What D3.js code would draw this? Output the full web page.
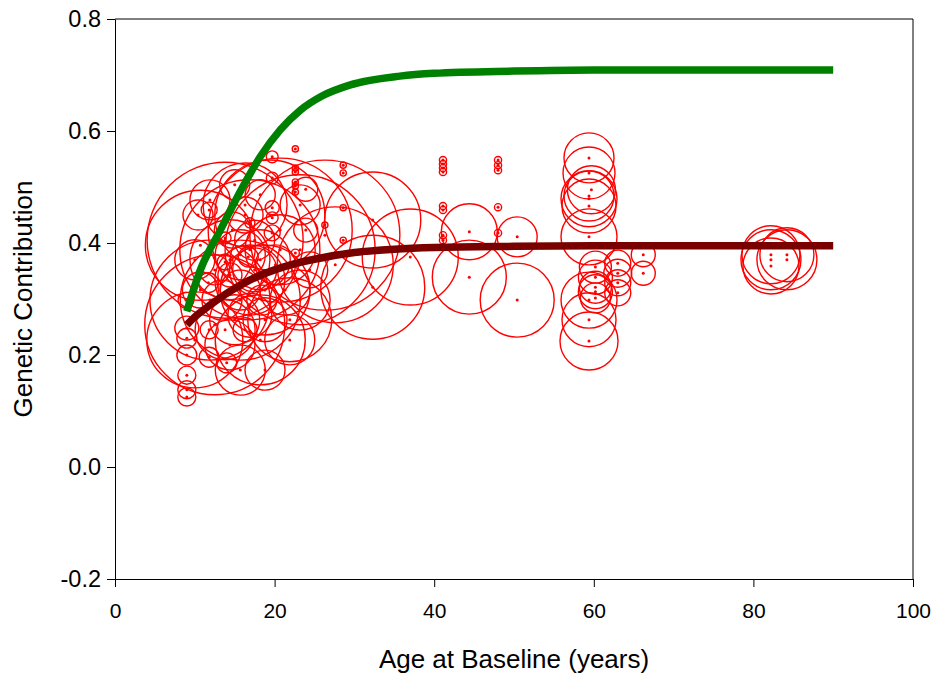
<!DOCTYPE html>
<html><head><meta charset="utf-8">
<script src="https://cdn.jsdelivr.net/npm/d3@7"></script>
<style>
body{margin:0;background:#fff;}
svg{display:block;font-family:"Liberation Sans",Arial,sans-serif;}
</style></head>
<body><svg id="c" width="935" height="676"></svg>
<script>
// ---- data ----
const xTicks = [0,20,40,60,80,100];
const xTickLabels = ["0","20","40","60","80","100"];
const yTicks = [-0.2,0,0.2,0.4,0.6,0.8];
const yTickLabels = ["-0.2","0.0","0.2","0.4","0.6","0.8"];
const xTitle = "Age at Baseline (years)";
const yTitle = "Genetic Contribution";

// study estimates: age at baseline, genetic contribution, sample size
const studyAge = [
 9.0,9.0,9.0,9.0,9.0,9.0,8.9,11.8,11.8,11.8,11.7,14.0,13.8,13.8,16.7,16.9,
 19.7,19.7,19.7,19.7,19.7,22.6,22.6,22.6,22.6,22.6,22.6,23.9,23.9,
 28.6,28.6,28.6,28.6,22.6,26.3,
 41.1,41.1,41.1,41.1,41.1,41.1,41.1,41.1,
 48.0,48.0,48.0,48.0,48.0,
 13.8,12.5,10.7,11.9,10.0,15.7,16.9,20.7,23.2,26.3,27.6,18.8,16.3,18.2,21.9,19.4,
 32.3,32.3,37.0,44.4,44.4,50.4,50.4,
 14.4,15.0,16.9,13.4,15.7,17.5,15.7,17.5,14.7,16.3,18.2,15.0,10.7,10.0,12.5,14.4,
 16.3,18.4,20.1,21.3,23.2,23.2,24.4,21.9,18.8,13.8,11.9,10.4,18.2,20.7,16.9,14.4,
 15.7,18.8,
 59.4,59.4,59.4,59.4,59.4,59.7,59.4,59.4,59.4,59.4,60.2,60.2,60.2,60.2,60.2,
 63.0,63.0,63.0,63.0,66.2,66.2,
 82.2,82.2,82.2,84.2,84.2
];
const studyH2 = [
 0.248,0.230,0.200,0.164,0.138,0.125,0.298,0.459,0.245,0.196,0.329,0.186,0.409,0.366,0.375,0.436,
 0.554,0.516,0.463,0.445,0.418,0.568,0.534,0.527,0.509,0.502,0.491,0.496,0.423,
 0.539,0.525,0.463,0.405,0.382,0.432,
 0.548,0.541,0.534,0.527,0.466,0.459,0.414,0.405,
 0.548,0.539,0.530,0.464,0.418,
 0.405,0.254,0.396,0.298,0.227,0.298,0.388,0.423,0.388,0.414,0.361,0.316,0.468,0.227,0.263,0.450,
 0.441,0.321,0.375,0.420,0.339,0.411,0.298,
 0.218,0.263,0.271,0.298,0.316,0.352,0.379,0.405,0.423,0.450,0.486,0.504,0.316,0.370,0.352,0.343,
 0.245,0.298,0.361,0.316,0.298,0.468,0.352,0.227,0.263,0.245,0.477,0.450,0.370,0.388,0.334,0.370,
 0.173,0.173,
 0.552,0.525,0.484,0.479,0.466,0.495,0.411,0.298,0.263,0.225,0.357,0.339,0.321,0.313,0.302,
 0.364,0.346,0.329,0.311,0.379,0.346,
 0.379,0.370,0.359,0.379,0.370
];
const studyN = [
 90,62,62,51,51,51,40,40,51,62,62,62,22,40,62,16,
 22,22,31,22,40,6,6,6,6,6,6,90,90,
 6,6,6,6,10,6,
 8,8,8,8,8,8,8,8,
 8,8,8,8,8,
 3802,3062,1891,2250,1440,2250,3062,3240,3516,3516,2102,1266,1102,1266,1102,1891,
 1440,1690,1440,490,856,250,856,
 391,391,302,250,250,302,391,250,202,202,141,141,202,250,141,90,
 90,141,250,391,562,250,202,391,302,562,250,141,562,766,766,1000,
 391,250,
 391,422,391,490,456,360,490,490,456,526,160,181,160,181,141,
 106,122,106,106,90,90,
 526,562,490,456,562
];

// fitted curves
const curveAge  = [9,10.7,13.2,16,18.2,20.7,23.2,26,29.4,35.7,40,50,60,75,90];
const curveHigh = [0.278,0.352,0.423,0.500,0.554,0.602,0.637,0.663,0.682,0.698,0.703,0.707,0.709,0.709,0.709];
const curveAgeLow = [9,10,12,14,16,18,20,22,25,30,35,40,50,60,75,90];
const curveLow  = [0.254,0.268,0.290,0.310,0.327,0.341,0.352,0.361,0.371,0.383,0.389,0.392,0.394,0.395,0.395,0.395];

// ---- drawing ----
const svg = d3.select("#c");
const x = d3.scaleLinear().domain([0,100]).range([115,913]);
const y = d3.scaleLinear().domain([-0.2,0.8]).range([579,19]);
const r = d3.scaleSqrt().domain([0,1000]).range([0,40]);

const studies = studyAge.map((a,i)=>({age:a,h:studyH2[i],n:studyN[i]}));

const gC = svg.append("g");
gC.selectAll("circle.ring").data(studies).enter().append("circle")
  .attr("class","ring")
  .attr("cx",d=>x(d.age)).attr("cy",d=>y(d.h)).attr("r",d=>r(d.n))
  .attr("fill","none").attr("stroke","#ff0000").attr("stroke-width",1.4);
gC.selectAll("circle.dot").data(studies).enter().append("circle")
  .attr("class","dot")
  .attr("cx",d=>x(d.age)).attr("cy",d=>y(d.h)).attr("r",1.5)
  .attr("fill","#ff0000");

const line = d3.line().curve(d3.curveMonotoneX).x(d=>x(d[0])).y(d=>y(d[1]));
svg.append("path").datum(curveAge.map((a,i)=>[a,curveHigh[i]]))
  .attr("d",line).attr("fill","none").attr("stroke","#008000").attr("stroke-width",7.5);
svg.append("path").datum(curveAgeLow.map((a,i)=>[a,curveLow[i]]))
  .attr("d",line).attr("fill","none").attr("stroke","#7a0000").attr("stroke-width",7.5);

// frame
svg.append("path").attr("d",`M${x(0)},${y(0.8)}H${x(100)}V${y(-0.2)}`)
  .attr("fill","none").attr("stroke","#000").attr("stroke-width",1);

const yAxis = svg.append("g").attr("transform",`translate(${x(0)},0)`)
  .call(d3.axisLeft(y).tickValues(yTicks).tickFormat((d,i)=>yTickLabels[i]).tickSize(8).tickSizeOuter(0).tickPadding(6));
const xAxis = svg.append("g").attr("transform",`translate(0,${y(-0.2)})`)
  .call(d3.axisBottom(x).tickValues(xTicks).tickFormat((d,i)=>xTickLabels[i]).tickSize(8).tickSizeOuter(0).tickPadding(16));
yAxis.selectAll("text").attr("font-size",23.5);
xAxis.selectAll("text").attr("font-size",21);
[yAxis,xAxis].forEach(g=>{
  g.selectAll("text").attr("font-family","Liberation Sans, Arial, sans-serif").attr("fill","#000");
  g.selectAll("line,path").attr("stroke","#000");
});

svg.append("text").attr("x",514).attr("y",668).attr("text-anchor","middle")
  .attr("font-size",26).text(xTitle);
svg.append("text").attr("transform","translate(32,299) rotate(-90)").attr("text-anchor","middle")
  .attr("font-size",26).text(yTitle);
</script></body></html>
